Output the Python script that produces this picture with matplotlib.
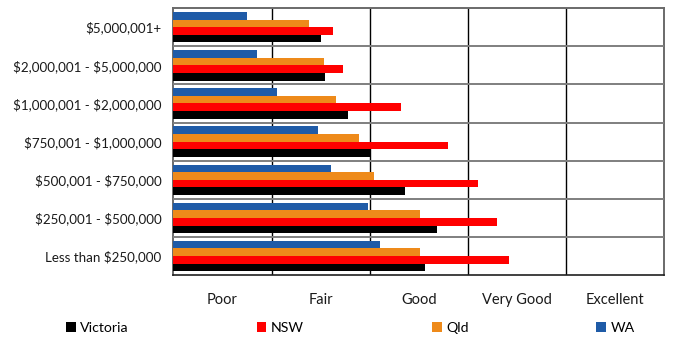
import matplotlib
matplotlib.use('Agg')
import matplotlib.pyplot as plt
import numpy as np

plt.rcParams['font.family'] = ['Lato', 'DejaVu Sans']
plt.rcParams['text.parse_math'] = False   # labels contain literal dollar signs

# Price brackets, bottom to top
CATEGORIES = [
    'Less than $250,000',
    '$250,001 - $500,000',
    '$500,001 - $750,000',
    '$750,001 - $1,000,000',
    '$1,000,001 - $2,000,000',
    '$2,000,001 - $5,000,000',
    '$5,000,001+',
]
RATINGS = ['Poor', 'Fair', 'Good', 'Very Good', 'Excellent']

# Average rating per state (0 = Poor ... 5 = Excellent)
VICTORIA = [2.56, 2.69, 2.36, 2.00, 1.78, 1.54, 1.50]
NSW      = [3.42, 3.30, 3.10, 2.80, 2.32, 1.73, 1.63]
QLD      = [2.51, 2.51, 2.04, 1.89, 1.66, 1.53, 1.38]
WA       = [2.10, 1.98, 1.60, 1.47, 1.05, 0.85, 0.75]

SERIES = [
    ('Victoria', VICTORIA, '#000000'),
    ('NSW',      NSW,      '#FF0000'),
    ('Qld',      QLD,      '#EE8A1A'),
    ('WA',       WA,       '#1F5BA7'),
]

fig = plt.figure(figsize=(6.75, 3.38), dpi=100)
ax = fig.add_axes([0.257, 0.186, 0.727, 0.790])

y = np.arange(len(CATEGORIES))
bar_h = 0.2
offsets = [-0.3, -0.1, 0.1, 0.3]
for (name, vals, color), off in zip(SERIES, offsets):
    ax.barh(y + off, vals, height=bar_h, color=color, label=name, zorder=3)

ax.set_xlim(0, 5)
ax.set_ylim(-0.5, len(CATEGORIES) - 0.5)

# vertical rating boundaries
for xv in range(1, 5):
    ax.axvline(xv, color='#000000', lw=1.0, zorder=1)
# lines between price brackets
for yv in y[:-1] + 0.5:
    ax.axhline(yv, color='#7f7f7f', lw=1.4, zorder=4)

ax.set_yticks(y)
ax.set_yticklabels(CATEGORIES, fontsize=9.6, color='#1a1a1a')
ax.set_xticks(np.arange(len(RATINGS)) + 0.5)
ax.set_xticklabels(RATINGS, fontsize=10.5, color='#1a1a1a')
ax.tick_params(axis='both', length=0)
ax.tick_params(axis='x', pad=13)
ax.tick_params(axis='y', pad=8.5)

for side in ('top', 'left', 'right'):
    ax.spines[side].set_color('#6a6a6a')
    ax.spines[side].set_linewidth(1.4)
ax.spines['bottom'].set_color('#202020')
ax.spines['bottom'].set_linewidth(1.2)

fig.legend(loc='lower left', bbox_to_anchor=(0.089, -0.005, 0.86, 0.06),
           mode='expand', ncol=4, frameon=False, fontsize=10.2,
           handlelength=0.7, handleheight=0.7, handletextpad=0.3,
           borderaxespad=0)

fig.savefig('out.png', dpi=100)
